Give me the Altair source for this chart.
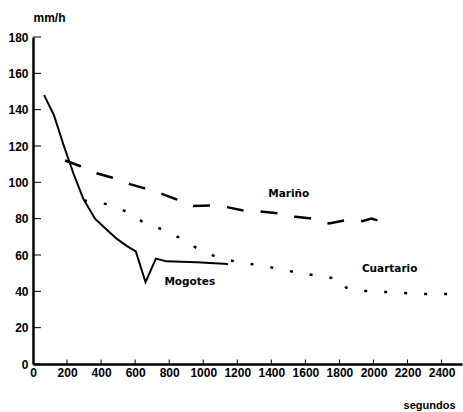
import altair as alt
import pandas as pd

# Mogotes (solid)
mog_x = [65, 123, 178, 237, 295, 364, 432, 491, 550, 604, 661, 722, 784, 961, 1146]
mog_y = [148, 137, 121, 105, 91, 80, 74, 69, 65, 62, 45, 58, 56.5, 56, 55]

# Mariño (dashed)
mar_x = [188, 276, 374, 462, 569, 657, 765, 843, 941, 1039, 1137, 1234, 1336, 1440,
         1543, 1641, 1739, 1841, 1939, 1988, 2050]
mar_y = [112, 109, 105, 102.7, 99, 96.7, 93.4, 90.6, 87, 87.3, 86.4, 84.5, 84, 83,
         81, 80, 77.4, 79.3, 78.7, 80, 78.3]

# Cuartario (dotted)
cua_x = [300, 432, 546, 648, 761, 872, 976, 1090, 1210, 1328, 1450, 1567, 1694, 1811,
         1840, 1900, 2027, 2150, 2267, 2450]
cua_y = [90, 88, 84, 78, 74, 69, 63, 58.5, 56, 54.4, 52.3, 50, 48.4, 46.5,
         42, 40.5, 39.8, 39.3, 38.5, 38.5]

lab_text = ["Mariño", "Cuartario", "Mogotes"]
lab_x = [1502, 2095, 921]
lab_y = [93.6, 52.3, 45.1]

x_ticks = list(range(200, 2401, 200))
x_labels = list(range(0, 2401, 200))
y_ticks = list(range(0, 181, 20))

FONT = "Liberation Sans"

xs = alt.Scale(domain=[0, 2520], nice=False, zero=False)
ys = alt.Scale(domain=[0, 180], nice=False)

xaxis = alt.Axis(values=x_labels, format="d", title="segundos", ticks=False, grid=False,
                 domainColor="black", domainWidth=2.5, labelFont=FONT, labelFontSize=12,
                 labelFontWeight="bold", labelColor="black", labelPadding=3,
                 labelFlush=False, labelOverlap=False,
                 titleFont=FONT, titleFontSize=11, titleFontWeight="bold", titleColor="black",
                 titleAnchor="end", titleAlign="right", titleX=422, titleY=41,
                 titleBaseline="middle")
yaxis = alt.Axis(values=y_ticks, format="d", title="mm/h", ticks=False, grid=False,
                 domainColor="black", domainWidth=2.5, labelFont=FONT, labelFontSize=12,
                 labelFontWeight="bold", labelColor="black", labelPadding=5,
                 labelOverlap=False, labelFlush=False,
                 titleFont=FONT, titleFontSize=12, titleFontWeight="bold", titleColor="black",
                 titleAngle=0, titleAlign="left", titleX=0, titleY=-20,
                 titleBaseline="middle")

X = lambda: alt.X("x:Q", scale=xs, axis=xaxis, title="segundos")
Y = lambda: alt.Y("y:Q", scale=ys, axis=yaxis, title="mm/h")

def line(xv, yv, dash, width):
    df = pd.DataFrame({"x": xv, "y": yv})
    kw = dict(color="black", strokeWidth=width, strokeCap="butt")
    if dash:
        kw["strokeDash"] = dash
    return alt.Chart(df).mark_line(**kw).encode(x=X(), y=Y())

mog = line(mog_x, mog_y, None, 2)
mar = line(mar_x, mar_y, [17, 17], 2.5)
cua = line(cua_x, cua_y, [3, 17], 2.5)

labels = alt.Chart(pd.DataFrame({"t": lab_text, "x": lab_x, "y": lab_y})).mark_text(
    font="DejaVu Sans", fontSize=10.5, fontWeight="bold", color="black"
).encode(x=X(), y=Y(), text="t:N")

xt = alt.Chart(pd.DataFrame({"x": x_ticks})).mark_rule(color="black", strokeWidth=1).encode(
    x=X(), y=alt.value(327), y2=alt.value(322.5))
yt = alt.Chart(pd.DataFrame({"y": y_ticks})).mark_rule(color="black", strokeWidth=1).encode(
    y=Y(), x=alt.value(0), x2=alt.value(8))

chart = alt.layer(mog, mar, cua, labels, xt, yt).properties(
    width=429, height=327,
    autosize=alt.AutoSizeParams(type="none"),
    padding={"left": 33, "top": 37, "right": 1, "bottom": 48},
    background="white",
).configure_view(stroke=None).configure_axis(labelOverlap=False)

chart.save("out.html", embed_options={"renderer": "svg", "actions": False})
